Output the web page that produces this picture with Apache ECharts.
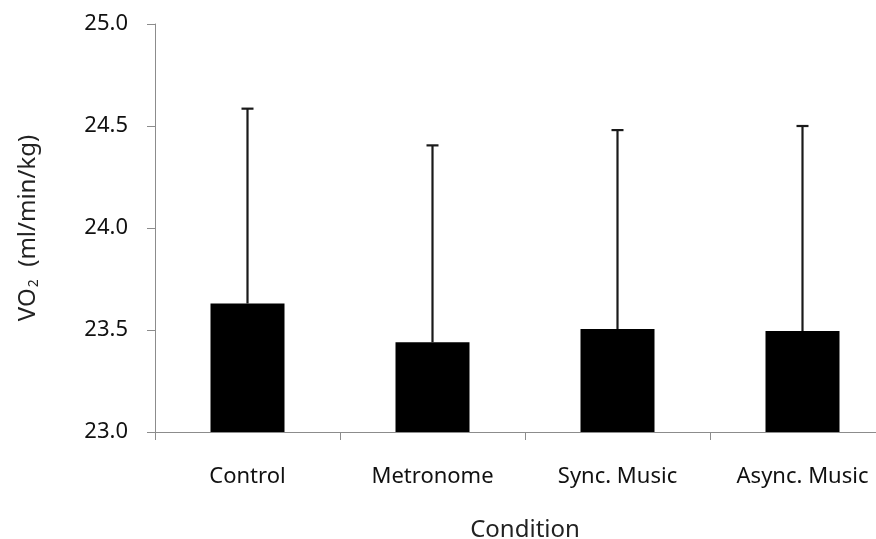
<!DOCTYPE html>
<html>
<head>
<meta charset="utf-8">
<script src="https://cdn.jsdelivr.net/npm/echarts@6/dist/echarts.min.js"></script>
<style>html,body{margin:0;padding:0;background:#fff;overflow:hidden;width:876px;height:539px;}#c{width:895px;height:539px;}</style>
</head>
<body>
<div id="c"></div>
<script>
const categories = ['Control', 'Metronome', 'Sync. Music', 'Async. Music'];
const meanValues = [23.63, 23.44, 23.505, 23.495];
const upperValues = [24.585, 24.405, 24.48, 24.50];
const yTicks = [23.0, 23.5, 24.0, 24.5, 25.0];

const chart = echarts.init(document.getElementById('c'));
const font = 'Noto Sans';
chart.setOption({
  animation: false,
  backgroundColor: '#fff',
  grid: { left: 155, top: 24, bottom: 107, right: 0, containLabel: false, outerBoundsMode: 'none' },
  xAxis: {
    type: 'category',
    data: categories,
    name: 'Condition',
    nameLocation: 'middle',
    nameGap: 86,
    nameTextStyle: { fontFamily: font, fontSize: 24, color: '#222' },
    axisLine: { lineStyle: { color: '#8c8c8c', width: 1 } },
    axisTick: { show: true, length: 8, lineStyle: { color: '#8c8c8c' }, alignWithLabel: false },
    axisLabel: { fontFamily: font, fontSize: 22, color: '#111', margin: 34 },
    splitLine: { show: false }
  },
  yAxis: {
    type: 'value',
    min: yTicks[0],
    max: yTicks[yTicks.length - 1],
    interval: 0.5,
    name: '{a|VO}{s|2}{a|  (ml/min/kg)}',
    nameLocation: 'middle',
    nameGap: 114,
    nameRotate: 90,
    nameTextStyle: {
      fontSize: 24,
      fontFamily: font,
      rich: {
        a: { fontFamily: font, fontSize: 24, color: '#222' },
        s: { fontFamily: font, fontSize: 14, color: '#222', verticalAlign: 'bottom', padding: [12, 0, 0, 1] }
      }
    },
    axisLine: { show: true, lineStyle: { color: '#8c8c8c', width: 1 } },
    axisTick: { show: true, length: 8, lineStyle: { color: '#8c8c8c' } },
    axisLabel: { fontFamily: font, fontSize: 22, color: '#111', margin: 27,
      formatter: v => v.toFixed(1) },
    splitLine: { show: false }
  },
  series: [
    {
      type: 'bar',
      data: meanValues,
      barWidth: 74,
      itemStyle: { color: '#000' },
      z: 2
    },
    {
      type: 'custom',
      z: 1,
      data: categories.map((c, i) => [i, meanValues[i], upperValues[i]]),
      renderItem: function (params, api) {
        const x = api.value(0);
        const lo = api.coord([x, api.value(1)]);
        const hi = api.coord([x, api.value(2)]);
        const cap = 6;
        const st = { stroke: '#1a1a1a', lineWidth: 2.2 };
        return {
          type: 'group',
          children: [
            { type: 'line', shape: { x1: lo[0], y1: lo[1], x2: hi[0], y2: hi[1] }, style: st },
            { type: 'line', shape: { x1: hi[0] - cap, y1: hi[1], x2: hi[0] + cap, y2: hi[1] }, style: st }
          ]
        };
      }
    }
  ]
});
</script>
</body>
</html>
